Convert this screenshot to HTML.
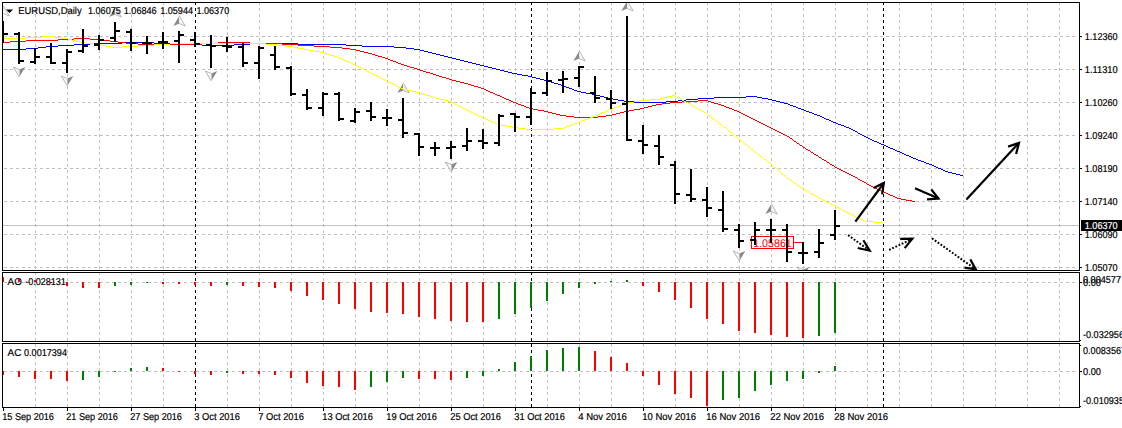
<!DOCTYPE html>
<html lang="en"><head><meta charset="utf-8"><title>EURUSD,Daily</title>
<style>html,body{margin:0;padding:0;background:#fff;overflow:hidden}svg{display:block}text{font-family:"Liberation Sans",Arial,sans-serif;font-size:10px;fill:#000;text-rendering:geometricPrecision;stroke:#000;stroke-width:0.2px}</style></head><body>
<svg width="1122" height="428" viewBox="0 0 1122 428">
<rect width="1122" height="428" fill="#fff"/>
<defs>
<clipPath id="c0"><rect x="3" y="3" width="1076" height="267"/></clipPath>
<clipPath id="c1"><rect x="3" y="273" width="1076" height="68"/></clipPath>
<clipPath id="c2"><rect x="3" y="344" width="1076" height="63"/></clipPath>
</defs>
<g shape-rendering="crispEdges" fill="none" stroke-width="1">
<g stroke="#C0C0C0" stroke-dasharray="3 3">
<path d="M35.5 2V270" stroke-dashoffset="0"/>
<path d="M35.5 272V341" stroke-dashoffset="0"/>
<path d="M35.5 343V407" stroke-dashoffset="5"/>
<path d="M67.5 2V270" stroke-dashoffset="0"/>
<path d="M67.5 272V341" stroke-dashoffset="0"/>
<path d="M67.5 343V407" stroke-dashoffset="5"/>
<path d="M99.5 2V270" stroke-dashoffset="0"/>
<path d="M99.5 272V341" stroke-dashoffset="0"/>
<path d="M99.5 343V407" stroke-dashoffset="5"/>
<path d="M131.5 2V270" stroke-dashoffset="0"/>
<path d="M131.5 272V341" stroke-dashoffset="0"/>
<path d="M131.5 343V407" stroke-dashoffset="5"/>
<path d="M163.5 2V270" stroke-dashoffset="0"/>
<path d="M163.5 272V341" stroke-dashoffset="0"/>
<path d="M163.5 343V407" stroke-dashoffset="5"/>
<path d="M195.5 2V270" stroke-dashoffset="0"/>
<path d="M195.5 272V341" stroke-dashoffset="0"/>
<path d="M195.5 343V407" stroke-dashoffset="5"/>
<path d="M227.5 2V270" stroke-dashoffset="0"/>
<path d="M227.5 272V341" stroke-dashoffset="0"/>
<path d="M227.5 343V407" stroke-dashoffset="5"/>
<path d="M259.5 2V270" stroke-dashoffset="0"/>
<path d="M259.5 272V341" stroke-dashoffset="0"/>
<path d="M259.5 343V407" stroke-dashoffset="5"/>
<path d="M291.5 2V270" stroke-dashoffset="0"/>
<path d="M291.5 272V341" stroke-dashoffset="0"/>
<path d="M291.5 343V407" stroke-dashoffset="5"/>
<path d="M323.5 2V270" stroke-dashoffset="0"/>
<path d="M323.5 272V341" stroke-dashoffset="0"/>
<path d="M323.5 343V407" stroke-dashoffset="5"/>
<path d="M355.5 2V270" stroke-dashoffset="0"/>
<path d="M355.5 272V341" stroke-dashoffset="0"/>
<path d="M355.5 343V407" stroke-dashoffset="5"/>
<path d="M387.5 2V270" stroke-dashoffset="0"/>
<path d="M387.5 272V341" stroke-dashoffset="0"/>
<path d="M387.5 343V407" stroke-dashoffset="5"/>
<path d="M419.5 2V270" stroke-dashoffset="0"/>
<path d="M419.5 272V341" stroke-dashoffset="0"/>
<path d="M419.5 343V407" stroke-dashoffset="5"/>
<path d="M451.5 2V270" stroke-dashoffset="0"/>
<path d="M451.5 272V341" stroke-dashoffset="0"/>
<path d="M451.5 343V407" stroke-dashoffset="5"/>
<path d="M483.5 2V270" stroke-dashoffset="0"/>
<path d="M483.5 272V341" stroke-dashoffset="0"/>
<path d="M483.5 343V407" stroke-dashoffset="5"/>
<path d="M515.5 2V270" stroke-dashoffset="0"/>
<path d="M515.5 272V341" stroke-dashoffset="0"/>
<path d="M515.5 343V407" stroke-dashoffset="5"/>
<path d="M547.5 2V270" stroke-dashoffset="0"/>
<path d="M547.5 272V341" stroke-dashoffset="0"/>
<path d="M547.5 343V407" stroke-dashoffset="5"/>
<path d="M579.5 2V270" stroke-dashoffset="0"/>
<path d="M579.5 272V341" stroke-dashoffset="0"/>
<path d="M579.5 343V407" stroke-dashoffset="5"/>
<path d="M611.5 2V270" stroke-dashoffset="0"/>
<path d="M611.5 272V341" stroke-dashoffset="0"/>
<path d="M611.5 343V407" stroke-dashoffset="5"/>
<path d="M643.5 2V270" stroke-dashoffset="0"/>
<path d="M643.5 272V341" stroke-dashoffset="0"/>
<path d="M643.5 343V407" stroke-dashoffset="5"/>
<path d="M675.5 2V270" stroke-dashoffset="0"/>
<path d="M675.5 272V341" stroke-dashoffset="0"/>
<path d="M675.5 343V407" stroke-dashoffset="5"/>
<path d="M707.5 2V270" stroke-dashoffset="0"/>
<path d="M707.5 272V341" stroke-dashoffset="0"/>
<path d="M707.5 343V407" stroke-dashoffset="5"/>
<path d="M739.5 2V270" stroke-dashoffset="0"/>
<path d="M739.5 272V341" stroke-dashoffset="0"/>
<path d="M739.5 343V407" stroke-dashoffset="5"/>
<path d="M771.5 2V270" stroke-dashoffset="0"/>
<path d="M771.5 272V341" stroke-dashoffset="0"/>
<path d="M771.5 343V407" stroke-dashoffset="5"/>
<path d="M803.5 2V270" stroke-dashoffset="0"/>
<path d="M803.5 272V341" stroke-dashoffset="0"/>
<path d="M803.5 343V407" stroke-dashoffset="5"/>
<path d="M835.5 2V270" stroke-dashoffset="0"/>
<path d="M835.5 272V341" stroke-dashoffset="0"/>
<path d="M835.5 343V407" stroke-dashoffset="5"/>
<path d="M867.5 2V270" stroke-dashoffset="0"/>
<path d="M867.5 272V341" stroke-dashoffset="0"/>
<path d="M867.5 343V407" stroke-dashoffset="5"/>
<path d="M899.5 2V270" stroke-dashoffset="0"/>
<path d="M899.5 272V341" stroke-dashoffset="0"/>
<path d="M899.5 343V407" stroke-dashoffset="5"/>
<path d="M931.5 2V270" stroke-dashoffset="0"/>
<path d="M931.5 272V341" stroke-dashoffset="0"/>
<path d="M931.5 343V407" stroke-dashoffset="5"/>
<path d="M963.5 2V270" stroke-dashoffset="0"/>
<path d="M963.5 272V341" stroke-dashoffset="0"/>
<path d="M963.5 343V407" stroke-dashoffset="5"/>
<path d="M995.5 2V270" stroke-dashoffset="0"/>
<path d="M995.5 272V341" stroke-dashoffset="0"/>
<path d="M995.5 343V407" stroke-dashoffset="5"/>
<path d="M1027.5 2V270" stroke-dashoffset="0"/>
<path d="M1027.5 272V341" stroke-dashoffset="0"/>
<path d="M1027.5 343V407" stroke-dashoffset="5"/>
<path d="M1059.5 2V270" stroke-dashoffset="0"/>
<path d="M1059.5 272V341" stroke-dashoffset="0"/>
<path d="M1059.5 343V407" stroke-dashoffset="5"/>
<path d="M4 36.5H1078"/>
<path d="M4 69.5H1078"/>
<path d="M4 102.5H1078"/>
<path d="M4 135.5H1078"/>
<path d="M4 168.5H1078"/>
<path d="M4 201.5H1078"/>
<path d="M4 234.5H1078"/>
<path d="M4 267.5H1078"/>
<path d="M4 282.5H1078"/>
<path d="M4 371.5H1078"/>
</g>
<path d="M3 225.5H1079" stroke="#C0C0C0"/>
</g>
<g shape-rendering="crispEdges" fill="none" stroke-width="1" stroke="#000" stroke-dasharray="3 3">
<path d="M195.5 2V270" stroke-dashoffset="0"/>
<path d="M195.5 272V341" stroke-dashoffset="0"/>
<path d="M195.5 343V407" stroke-dashoffset="5"/>
<path d="M531.5 2V270" stroke-dashoffset="0"/>
<path d="M531.5 272V341" stroke-dashoffset="0"/>
<path d="M531.5 343V407" stroke-dashoffset="5"/>
<path d="M883.5 2V270" stroke-dashoffset="0"/>
<path d="M883.5 272V341" stroke-dashoffset="0"/>
<path d="M883.5 343V407" stroke-dashoffset="5"/>
</g>
<g shape-rendering="crispEdges"><rect x="751.5" y="236.5" width="42" height="12" fill="none" stroke="#FF0000"/><path d="M794 242.5H803" stroke="#FF0000"/></g>
<text x="753.2" y="246.6" textLength="38.6" lengthAdjust="spacingAndGlyphs" style="fill:#FF0000;stroke:none;font-size:11px">1.05861</text>
<g clip-path="url(#c0)">
<path d="M3.3 6L-2.7 16L3.3 13.5Z" fill="#8a8a8a"/><path d="M3.3 6L9.3 16L3.3 13.5" fill="#f6f6f8" stroke="#a4a4ac" stroke-width="0.8"/>
<path d="M115.3 7L109.3 17L115.3 14.5Z" fill="#8a8a8a"/><path d="M115.3 7L121.3 17L115.3 14.5" fill="#f6f6f8" stroke="#a4a4ac" stroke-width="0.8"/>
<path d="M179.3 16L173.3 26L179.3 23.5Z" fill="#8a8a8a"/><path d="M179.3 16L185.3 26L179.3 23.5" fill="#f6f6f8" stroke="#a4a4ac" stroke-width="0.8"/>
<path d="M403.3 83L397.3 93L403.3 90.5Z" fill="#8a8a8a"/><path d="M403.3 83L409.3 93L403.3 90.5" fill="#f6f6f8" stroke="#a4a4ac" stroke-width="0.8"/>
<path d="M579.3 51L573.3 61L579.3 58.5Z" fill="#8a8a8a"/><path d="M579.3 51L585.3 61L579.3 58.5" fill="#f6f6f8" stroke="#a4a4ac" stroke-width="0.8"/>
<path d="M627.3 1L621.3 11L627.3 8.5Z" fill="#8a8a8a"/><path d="M627.3 1L633.3 11L627.3 8.5" fill="#f6f6f8" stroke="#a4a4ac" stroke-width="0.8"/>
<path d="M771.3 204L765.3 214L771.3 211.5Z" fill="#8a8a8a"/><path d="M771.3 204L777.3 214L771.3 211.5" fill="#f6f6f8" stroke="#a4a4ac" stroke-width="0.8"/>
<path d="M19.3 77L25.3 67L19.3 69.5Z" fill="#8a8a8a"/><path d="M19.3 77L13.3 67L19.3 69.5" fill="#f6f6f8" stroke="#a4a4ac" stroke-width="0.8"/>
<path d="M67.3 86L73.3 76L67.3 78.5Z" fill="#8a8a8a"/><path d="M67.3 86L61.3 76L67.3 78.5" fill="#f6f6f8" stroke="#a4a4ac" stroke-width="0.8"/>
<path d="M211.3 81L217.3 71L211.3 73.5Z" fill="#8a8a8a"/><path d="M211.3 81L205.3 71L211.3 73.5" fill="#f6f6f8" stroke="#a4a4ac" stroke-width="0.8"/>
<path d="M451.3 172L457.3 162L451.3 164.5Z" fill="#8a8a8a"/><path d="M451.3 172L445.3 162L451.3 164.5" fill="#f6f6f8" stroke="#a4a4ac" stroke-width="0.8"/>
<path d="M739.3 261L745.3 251L739.3 253.5Z" fill="#8a8a8a"/><path d="M739.3 261L733.3 251L739.3 253.5" fill="#f6f6f8" stroke="#a4a4ac" stroke-width="0.8"/>
<path d="M803.3 277L809.3 267L803.3 269.5Z" fill="#8a8a8a"/><path d="M803.3 277L797.3 267L803.3 269.5" fill="#f6f6f8" stroke="#a4a4ac" stroke-width="0.8"/>
</g>
<g clip-path="url(#c0)" shape-rendering="crispEdges">
<path fill="#0000FF" d="M122 42h32v1h-32zM90 43h32v1h-32zM154 43h32v1h-32zM250 43h48v1h-48zM74 44h16v1h-16zM186 44h16v1h-16zM234 44h16v1h-16zM298 44h48v1h-48zM58 45h16v1h-16zM202 45h32v1h-32zM346 45h16v1h-16zM46 46h12v1h-12zM362 46h32v1h-32zM38 47h8v1h-8zM394 47h12v1h-12zM26 48h12v1h-12zM406 48h8v1h-8zM2 49h24v1h-24zM414 49h6v1h-6zM420 50h4v1h-4zM424 51h4v1h-4zM428 52h4v1h-4zM432 53h4v1h-4zM436 54h4v1h-4zM440 55h4v1h-4zM444 56h4v1h-4zM448 57h4v1h-4zM452 58h4v1h-4zM456 59h4v1h-4zM460 60h4v1h-4zM464 61h4v1h-4zM468 62h4v1h-4zM472 63h4v1h-4zM476 64h4v1h-4zM480 65h4v1h-4zM484 66h4v1h-4zM488 67h4v1h-4zM492 68h4v1h-4zM496 69h4v1h-4zM500 70h4v1h-4zM504 71h4v1h-4zM508 72h4v1h-4zM512 73h5v1h-5zM517 74h5v1h-5zM522 75h6v1h-6zM528 76h4v1h-4zM532 77h4v1h-4zM536 78h4v1h-4zM540 79h4v1h-4zM544 80h4v1h-4zM548 81h3v1h-3zM551 82h3v1h-3zM554 83h4v1h-4zM558 84h3v1h-3zM561 85h3v1h-3zM564 86h2v1h-2zM566 87h3v1h-3zM569 88h3v1h-3zM572 89h2v1h-2zM574 90h3v1h-3zM577 91h4v1h-4zM581 92h5v1h-5zM586 93h6v1h-6zM592 94h4v1h-4zM596 95h4v1h-4zM600 96h4v1h-4zM746 96h11v1h-11zM604 97h4v1h-4zM714 97h32v1h-32zM757 97h5v1h-5zM608 98h5v1h-5zM698 98h16v1h-16zM762 98h6v1h-6zM613 99h5v1h-5zM686 99h12v1h-12zM768 99h4v1h-4zM618 100h6v1h-6zM678 100h8v1h-8zM772 100h4v1h-4zM624 101h10v1h-10zM666 101h12v1h-12zM776 101h4v1h-4zM634 102h32v1h-32zM780 102h4v1h-4zM784 103h4v1h-4zM788 104h2v1h-2zM790 105h3v1h-3zM793 106h3v1h-3zM796 107h2v1h-2zM798 108h3v1h-3zM801 109h3v1h-3zM804 110h2v1h-2zM806 111h3v1h-3zM809 112h3v1h-3zM812 113h2v1h-2zM814 114h3v1h-3zM817 115h3v1h-3zM820 116h2v1h-2zM822 117h2v1h-2zM824 118h2v1h-2zM826 119h3v1h-3zM829 120h2v1h-2zM831 121h2v1h-2zM833 122h3v1h-3zM836 123h2v1h-2zM838 124h3v1h-3zM841 125h3v1h-3zM844 126h2v1h-2zM846 127h3v1h-3zM849 128h2v1h-2zM851 129h2v1h-2zM853 130h2v1h-2zM855 131h2v1h-2zM857 132h1v1h-1zM858 133h2v1h-2zM860 134h2v1h-2zM862 135h2v1h-2zM864 136h2v1h-2zM866 137h2v1h-2zM868 138h2v1h-2zM870 139h2v1h-2zM872 140h2v1h-2zM874 141h3v1h-3zM877 142h2v1h-2zM879 143h2v1h-2zM881 144h3v1h-3zM884 145h2v1h-2zM886 146h2v1h-2zM888 147h2v1h-2zM890 148h3v1h-3zM893 149h2v1h-2zM895 150h2v1h-2zM897 151h3v1h-3zM900 152h2v1h-2zM902 153h2v1h-2zM904 154h2v1h-2zM906 155h3v1h-3zM909 156h2v1h-2zM911 157h2v1h-2zM913 158h3v1h-3zM916 159h2v1h-2zM918 160h3v1h-3zM921 161h3v1h-3zM924 162h2v1h-2zM926 163h3v1h-3zM929 164h3v1h-3zM932 165h2v1h-2zM934 166h2v1h-2zM936 167h2v1h-2zM938 168h3v1h-3zM941 169h2v1h-2zM943 170h2v1h-2zM945 171h3v1h-3zM948 172h4v1h-4zM952 173h4v1h-4zM956 174h4v1h-4zM960 175h3v1h-3z"/>
<path fill="#FF0000" d="M74 38h16v1h-16zM58 39h16v1h-16zM90 39h12v1h-12zM26 40h32v1h-32zM102 40h8v1h-8zM10 41h16v1h-16zM110 41h8v1h-8zM2 42h8v1h-8zM118 42h8v1h-8zM218 42h32v1h-32zM126 43h12v1h-12zM202 43h16v1h-16zM250 43h32v1h-32zM138 44h64v1h-64zM282 44h16v1h-16zM298 45h16v1h-16zM314 46h16v1h-16zM330 47h12v1h-12zM342 48h8v1h-8zM350 49h6v1h-6zM356 50h4v1h-4zM360 51h4v1h-4zM364 52h4v1h-4zM368 53h4v1h-4zM372 54h3v1h-3zM375 55h3v1h-3zM378 56h4v1h-4zM382 57h3v1h-3zM385 58h3v1h-3zM388 59h2v1h-2zM390 60h3v1h-3zM393 61h3v1h-3zM396 62h2v1h-2zM398 63h3v1h-3zM401 64h3v1h-3zM404 65h3v1h-3zM407 66h3v1h-3zM410 67h4v1h-4zM414 68h3v1h-3zM417 69h3v1h-3zM420 70h3v1h-3zM423 71h3v1h-3zM426 72h4v1h-4zM430 73h3v1h-3zM433 74h3v1h-3zM436 75h3v1h-3zM439 76h3v1h-3zM442 77h4v1h-4zM446 78h3v1h-3zM449 79h3v1h-3zM452 80h4v1h-4zM456 81h4v1h-4zM460 82h4v1h-4zM464 83h4v1h-4zM468 84h3v1h-3zM471 85h3v1h-3zM474 86h4v1h-4zM478 87h3v1h-3zM481 88h3v1h-3zM484 89h2v1h-2zM486 90h2v1h-2zM488 91h2v1h-2zM490 92h3v1h-3zM493 93h2v1h-2zM495 94h2v1h-2zM497 95h3v1h-3zM500 96h2v1h-2zM502 97h2v1h-2zM504 98h2v1h-2zM506 99h3v1h-3zM509 100h2v1h-2zM698 100h10v1h-10zM511 101h2v1h-2zM682 101h16v1h-16zM708 101h3v1h-3zM513 102h3v1h-3zM670 102h12v1h-12zM711 102h3v1h-3zM516 103h2v1h-2zM662 103h8v1h-8zM714 103h4v1h-4zM518 104h3v1h-3zM656 104h6v1h-6zM718 104h3v1h-3zM521 105h3v1h-3zM652 105h4v1h-4zM721 105h3v1h-3zM524 106h2v1h-2zM648 106h4v1h-4zM724 106h2v1h-2zM526 107h3v1h-3zM644 107h4v1h-4zM726 107h3v1h-3zM529 108h4v1h-4zM640 108h4v1h-4zM729 108h3v1h-3zM533 109h5v1h-5zM634 109h6v1h-6zM732 109h2v1h-2zM538 110h6v1h-6zM629 110h5v1h-5zM734 110h3v1h-3zM544 111h4v1h-4zM624 111h5v1h-5zM737 111h2v1h-2zM548 112h4v1h-4zM620 112h4v1h-4zM739 112h2v1h-2zM552 113h4v1h-4zM616 113h4v1h-4zM741 113h2v1h-2zM556 114h4v1h-4zM612 114h4v1h-4zM743 114h2v1h-2zM560 115h6v1h-6zM606 115h6v1h-6zM745 115h2v1h-2zM566 116h8v1h-8zM598 116h8v1h-8zM747 116h2v1h-2zM574 117h24v1h-24zM749 117h2v1h-2zM751 118h2v1h-2zM753 119h2v1h-2zM755 120h2v1h-2zM757 121h2v1h-2zM759 122h2v1h-2zM761 123h2v1h-2zM763 124h2v1h-2zM765 125h2v1h-2zM767 126h2v1h-2zM769 127h2v1h-2zM771 128h2v1h-2zM773 129h2v1h-2zM775 130h2v1h-2zM777 131h2v1h-2zM779 132h2v1h-2zM781 133h2v1h-2zM783 134h2v1h-2zM785 135h2v1h-2zM787 136h2v1h-2zM789 137h1v1h-1zM790 138h2v1h-2zM792 139h1v1h-1zM793 140h1v1h-1zM794 141h2v1h-2zM796 142h1v1h-1zM797 143h2v1h-2zM799 144h1v1h-1zM800 145h2v1h-2zM802 146h1v1h-1zM803 147h2v1h-2zM805 148h1v1h-1zM806 149h2v1h-2zM808 150h2v1h-2zM810 151h1v1h-1zM811 152h2v1h-2zM813 153h1v1h-1zM814 154h2v1h-2zM816 155h2v1h-2zM818 156h1v1h-1zM819 157h2v1h-2zM821 158h1v1h-1zM822 159h2v1h-2zM824 160h2v1h-2zM826 161h1v1h-1zM827 162h2v1h-2zM829 163h1v1h-1zM830 164h2v1h-2zM832 165h2v1h-2zM834 166h1v1h-1zM835 167h2v1h-2zM837 168h2v1h-2zM839 169h2v1h-2zM841 170h2v1h-2zM843 171h2v1h-2zM845 172h2v1h-2zM847 173h2v1h-2zM849 174h2v1h-2zM851 175h2v1h-2zM853 176h2v1h-2zM855 177h2v1h-2zM857 178h1v1h-1zM858 179h2v1h-2zM860 180h2v1h-2zM862 181h2v1h-2zM864 182h2v1h-2zM866 183h1v1h-1zM867 184h2v1h-2zM869 185h2v1h-2zM871 186h2v1h-2zM873 187h2v1h-2zM875 188h2v1h-2zM877 189h2v1h-2zM879 190h2v1h-2zM881 191h3v1h-3zM884 192h2v1h-2zM886 193h2v1h-2zM888 194h2v1h-2zM890 195h3v1h-3zM893 196h2v1h-2zM895 197h2v1h-2zM897 198h4v1h-4zM901 199h5v1h-5zM906 200h6v1h-6zM912 201h3v1h-3z"/>
<path fill="#FFFF00" d="M42 36h12v1h-12zM26 37h16v1h-16zM54 37h8v1h-8zM2 38h24v1h-24zM62 38h6v1h-6zM68 39h4v1h-4zM72 40h4v1h-4zM76 41h4v1h-4zM80 42h6v1h-6zM86 43h8v1h-8zM170 43h96v1h-96zM94 44h7v1h-7zM154 44h16v1h-16zM266 44h12v1h-12zM101 45h5v1h-5zM138 45h16v1h-16zM278 45h8v1h-8zM106 46h6v1h-6zM122 46h16v1h-16zM286 46h7v1h-7zM112 47h10v1h-10zM293 47h5v1h-5zM298 48h6v1h-6zM304 49h5v1h-5zM309 50h5v1h-5zM314 51h6v1h-6zM320 52h4v1h-4zM324 53h3v1h-3zM327 54h3v1h-3zM330 55h4v1h-4zM334 56h3v1h-3zM337 57h3v1h-3zM340 58h2v1h-2zM342 59h2v1h-2zM344 60h2v1h-2zM346 61h3v1h-3zM349 62h2v1h-2zM351 63h2v1h-2zM353 64h2v1h-2zM355 65h2v1h-2zM357 66h2v1h-2zM359 67h2v1h-2zM361 68h2v1h-2zM363 69h2v1h-2zM365 70h2v1h-2zM367 71h2v1h-2zM369 72h2v1h-2zM371 73h2v1h-2zM373 74h2v1h-2zM375 75h2v1h-2zM377 76h2v1h-2zM379 77h2v1h-2zM381 78h2v1h-2zM383 79h2v1h-2zM385 80h2v1h-2zM387 81h2v1h-2zM389 82h2v1h-2zM391 83h2v1h-2zM393 84h2v1h-2zM395 85h2v1h-2zM397 86h2v1h-2zM399 87h2v1h-2zM401 88h3v1h-3zM404 89h4v1h-4zM408 90h4v1h-4zM412 91h4v1h-4zM416 92h4v1h-4zM420 93h3v1h-3zM423 94h3v1h-3zM426 95h4v1h-4zM672 95h3v1h-3zM430 96h3v1h-3zM668 96h4v1h-4zM675 96h2v1h-2zM433 97h3v1h-3zM664 97h4v1h-4zM677 97h2v1h-2zM436 98h4v1h-4zM660 98h4v1h-4zM679 98h2v1h-2zM440 99h4v1h-4zM650 99h10v1h-10zM681 99h1v1h-1zM444 100h4v1h-4zM640 100h10v1h-10zM682 100h2v1h-2zM448 101h3v1h-3zM634 101h6v1h-6zM684 101h2v1h-2zM451 102h2v1h-2zM629 102h5v1h-5zM686 102h2v1h-2zM453 103h2v1h-2zM625 103h4v1h-4zM688 103h2v1h-2zM455 104h2v1h-2zM622 104h3v1h-3zM690 104h1v1h-1zM457 105h2v1h-2zM620 105h2v1h-2zM691 105h2v1h-2zM459 106h2v1h-2zM617 106h3v1h-3zM693 106h2v1h-2zM461 107h2v1h-2zM614 107h3v1h-3zM695 107h2v1h-2zM463 108h2v1h-2zM612 108h2v1h-2zM697 108h1v1h-1zM465 109h2v1h-2zM609 109h3v1h-3zM698 109h2v1h-2zM467 110h2v1h-2zM607 110h2v1h-2zM700 110h2v1h-2zM469 111h2v1h-2zM605 111h2v1h-2zM702 111h2v1h-2zM471 112h2v1h-2zM602 112h3v1h-3zM704 112h2v1h-2zM473 113h2v1h-2zM600 113h2v1h-2zM706 113h1v1h-1zM475 114h2v1h-2zM598 114h2v1h-2zM707 114h1v1h-1zM477 115h2v1h-2zM596 115h2v1h-2zM708 115h2v1h-2zM479 116h2v1h-2zM593 116h3v1h-3zM710 116h1v1h-1zM481 117h3v1h-3zM590 117h3v1h-3zM711 117h1v1h-1zM484 118h2v1h-2zM588 118h2v1h-2zM712 118h2v1h-2zM486 119h2v1h-2zM585 119h3v1h-3zM714 119h1v1h-1zM488 120h2v1h-2zM582 120h3v1h-3zM715 120h1v1h-1zM490 121h3v1h-3zM580 121h2v1h-2zM716 121h2v1h-2zM493 122h2v1h-2zM577 122h3v1h-3zM718 122h1v1h-1zM495 123h2v1h-2zM574 123h3v1h-3zM719 123h1v1h-1zM497 124h4v1h-4zM572 124h2v1h-2zM720 124h2v1h-2zM501 125h5v1h-5zM569 125h3v1h-3zM722 125h1v1h-1zM506 126h6v1h-6zM566 126h3v1h-3zM723 126h1v1h-1zM512 127h6v1h-6zM564 127h2v1h-2zM724 127h2v1h-2zM518 128h8v1h-8zM554 128h10v1h-10zM726 128h1v1h-1zM526 129h28v1h-28zM727 129h1v1h-1zM728 130h1v1h-1zM729 131h1v1h-1zM730 132h2v1h-2zM732 133h1v1h-1zM733 134h1v1h-1zM734 135h1v1h-1zM735 136h2v1h-2zM737 137h1v1h-1zM738 138h1v1h-1zM739 139h1v1h-1zM740 140h2v1h-2zM742 141h1v1h-1zM743 142h1v1h-1zM744 143h1v1h-1zM745 144h1v1h-1zM746 145h2v1h-2zM748 146h1v1h-1zM749 147h1v1h-1zM750 148h1v1h-1zM751 149h2v1h-2zM753 150h1v1h-1zM754 151h1v1h-1zM755 152h1v1h-1zM756 153h2v1h-2zM758 154h1v1h-1zM759 155h1v1h-1zM760 156h2v1h-2zM762 157h1v1h-1zM763 158h1v1h-1zM764 159h2v1h-2zM766 160h1v1h-1zM767 161h1v1h-1zM768 162h2v1h-2zM770 163h1v1h-1zM771 164h1v1h-1zM772 165h1v1h-1zM773 166h1v1h-1zM774 167h2v1h-2zM776 168h1v1h-1zM777 169h1v1h-1zM778 170h1v1h-1zM779 171h1v1h-1zM780 172h1v1h-1zM781 173h1v1h-1zM782 174h2v1h-2zM784 175h1v1h-1zM785 176h1v1h-1zM786 177h1v1h-1zM787 178h2v1h-2zM789 179h1v1h-1zM790 180h2v1h-2zM792 181h1v1h-1zM793 182h1v1h-1zM794 183h2v1h-2zM796 184h1v1h-1zM797 185h2v1h-2zM799 186h1v1h-1zM800 187h2v1h-2zM802 188h1v1h-1zM803 189h2v1h-2zM805 190h2v1h-2zM807 191h2v1h-2zM809 192h1v1h-1zM810 193h2v1h-2zM812 194h2v1h-2zM814 195h2v1h-2zM816 196h2v1h-2zM818 197h1v1h-1zM819 198h2v1h-2zM821 199h2v1h-2zM823 200h2v1h-2zM825 201h2v1h-2zM827 202h2v1h-2zM829 203h2v1h-2zM831 204h2v1h-2zM833 205h2v1h-2zM835 206h2v1h-2zM837 207h2v1h-2zM839 208h2v1h-2zM841 209h1v1h-1zM842 210h2v1h-2zM844 211h2v1h-2zM846 212h2v1h-2zM848 213h2v1h-2zM850 214h2v1h-2zM852 215h2v1h-2zM854 216h2v1h-2zM856 217h2v1h-2zM858 218h3v1h-3zM861 219h2v1h-2zM863 220h2v1h-2zM865 221h9v1h-9zM874 222h9v1h-9z"/>
</g>
<g clip-path="url(#c0)" shape-rendering="crispEdges" fill="#000">
<path d="M2 21h2v22h-2zM4 33h4v2h-4zM18 32h2v32h-2zM14 33h4v2h-4zM20 60h4v2h-4zM34 48h2v16h-2zM30 61h4v2h-4zM36 56h4v2h-4zM50 43h2v21h-2zM46 56h4v2h-4zM52 62h4v2h-4zM66 49h2v24h-2zM62 62h4v2h-4zM68 51h4v2h-4zM82 29h2v24h-2zM78 50h4v2h-4zM84 45h4v2h-4zM98 35h2v15h-2zM94 44h4v2h-4zM100 39h4v2h-4zM114 22h2v20h-2zM110 37h4v2h-4zM116 30h4v2h-4zM130 29h2v22h-2zM126 31h4v2h-4zM132 42h4v2h-4zM146 36h2v18h-2zM142 42h4v2h-4zM148 42h4v2h-4zM162 32h2v17h-2zM158 41h4v2h-4zM164 41h4v2h-4zM178 31h2v32h-2zM174 40h4v2h-4zM180 34h4v2h-4zM194 32h2v15h-2zM190 39h4v2h-4zM196 43h4v2h-4zM210 35h2v33h-2zM206 44h4v2h-4zM212 45h4v2h-4zM226 37h2v15h-2zM222 45h4v2h-4zM228 46h4v2h-4zM242 43h2v24h-2zM238 46h4v2h-4zM244 62h4v2h-4zM258 46h2v33h-2zM254 62h4v2h-4zM260 47h4v2h-4zM274 46h2v24h-2zM270 54h4v2h-4zM276 66h4v2h-4zM290 66h2v30h-2zM286 67h4v2h-4zM292 93h4v2h-4zM306 89h2v21h-2zM302 94h4v2h-4zM308 107h4v2h-4zM322 92h2v24h-2zM318 107h4v2h-4zM324 93h4v2h-4zM338 92h2v29h-2zM334 93h4v2h-4zM340 118h4v2h-4zM354 108h2v15h-2zM350 120h4v2h-4zM356 111h4v2h-4zM370 102h2v19h-2zM366 110h4v2h-4zM372 116h4v2h-4zM386 109h2v17h-2zM382 117h4v2h-4zM388 117h4v2h-4zM402 98h2v40h-2zM398 119h4v2h-4zM404 132h4v2h-4zM418 133h2v23h-2zM414 133h4v2h-4zM420 146h4v2h-4zM434 142h2v14h-2zM430 147h4v2h-4zM436 147h4v2h-4zM450 141h2v18h-2zM446 147h4v2h-4zM452 146h4v2h-4zM466 128h2v23h-2zM462 145h4v2h-4zM468 140h4v2h-4zM482 129h2v20h-2zM478 140h4v2h-4zM484 142h4v2h-4zM498 114h2v32h-2zM494 142h4v2h-4zM500 115h4v2h-4zM514 113h2v19h-2zM510 113h4v2h-4zM516 116h4v2h-4zM530 88h2v37h-2zM526 116h4v2h-4zM532 92h4v2h-4zM546 72h2v24h-2zM542 92h4v2h-4zM548 80h4v2h-4zM562 71h2v22h-2zM558 79h4v2h-4zM564 78h4v2h-4zM578 66h2v21h-2zM574 77h4v2h-4zM580 66h4v2h-4zM594 76h2v27h-2zM590 92h4v2h-4zM596 97h4v2h-4zM610 90h2v19h-2zM606 98h4v2h-4zM612 102h4v2h-4zM626 16h2v125h-2zM622 103h4v2h-4zM628 139h4v2h-4zM642 125h2v29h-2zM638 140h4v2h-4zM644 144h4v2h-4zM658 135h2v30h-2zM654 145h4v2h-4zM660 156h4v2h-4zM674 161h2v43h-2zM670 164h4v2h-4zM676 193h4v2h-4zM690 169h2v33h-2zM686 194h4v2h-4zM692 198h4v2h-4zM706 187h2v30h-2zM702 199h4v2h-4zM708 207h4v2h-4zM722 191h2v41h-2zM718 209h4v2h-4zM724 228h4v2h-4zM738 224h2v24h-2zM734 229h4v2h-4zM740 240h4v2h-4zM754 222h2v23h-2zM750 239h4v2h-4zM756 229h4v2h-4zM770 219h2v24h-2zM766 229h4v2h-4zM772 229h4v2h-4zM786 224h2v38h-2zM782 229h4v2h-4zM788 251h4v2h-4zM802 242h2v22h-2zM798 252h4v2h-4zM804 252h4v2h-4zM818 229h2v29h-2zM814 251h4v2h-4zM820 242h4v2h-4zM834 210h2v30h-2zM830 234h4v2h-4zM836 225h4v2h-4z"/>
</g>
<g clip-path="url(#c1)" shape-rendering="crispEdges"><path fill="#FF0000" d="M2 277h2v5h-2zM18 279h2v3h-2zM34 280h2v2h-2zM50 282h2v1h-2zM66 282h2v4h-2zM82 282h2v6h-2zM98 282h2v6h-2zM162 282h2v2h-2zM178 282h2v2h-2zM194 282h2v3h-2zM210 282h2v4h-2zM242 282h2v4h-2zM258 282h2v5h-2zM274 282h2v6h-2zM290 282h2v9h-2zM306 282h2v14h-2zM322 282h2v18h-2zM338 282h2v22h-2zM354 282h2v27h-2zM370 282h2v30h-2zM386 282h2v31h-2zM402 282h2v32h-2zM418 282h2v35h-2zM434 282h2v37h-2zM450 282h2v39h-2zM466 282h2v40h-2zM482 282h2v40h-2zM642 282h2v4h-2zM658 282h2v10h-2zM674 282h2v18h-2zM690 282h2v26h-2zM706 282h2v37h-2zM722 282h2v42h-2zM738 282h2v49h-2zM754 282h2v51h-2zM770 282h2v53h-2zM786 282h2v55h-2zM802 282h2v56h-2z"/><path fill="#008000" d="M114 282h2v4h-2zM130 282h2v3h-2zM146 282h2v1h-2zM226 282h2v3h-2zM498 282h2v37h-2zM514 282h2v32h-2zM530 282h2v26h-2zM546 282h2v19h-2zM562 282h2v12h-2zM578 282h2v6h-2zM594 282h2v2h-2zM610 281h2v1h-2zM626 280h2v2h-2zM818 282h2v54h-2zM834 282h2v51h-2z"/></g>
<g clip-path="url(#c2)" shape-rendering="crispEdges"><path fill="#FF0000" d="M2 371h2v4h-2zM18 371h2v6h-2zM34 371h2v8h-2zM50 371h2v8h-2zM66 371h2v10h-2zM162 368h2v3h-2zM178 371h2v1h-2zM194 371h2v3h-2zM210 371h2v4h-2zM242 371h2v3h-2zM258 371h2v3h-2zM274 371h2v4h-2zM290 371h2v7h-2zM306 371h2v12h-2zM322 371h2v15h-2zM338 371h2v16h-2zM354 371h2v19h-2zM418 371h2v8h-2zM434 371h2v8h-2zM450 371h2v9h-2zM594 351h2v20h-2zM610 357h2v14h-2zM626 363h2v8h-2zM642 371h2v5h-2zM658 371h2v14h-2zM674 371h2v23h-2zM690 371h2v27h-2zM706 371h2v35h-2z"/><path fill="#008000" d="M82 371h2v9h-2zM98 371h2v6h-2zM114 371h2v1h-2zM130 368h2v3h-2zM146 367h2v4h-2zM226 371h2v2h-2zM370 371h2v16h-2zM386 371h2v11h-2zM402 371h2v7h-2zM466 371h2v7h-2zM482 371h2v5h-2zM498 369h2v2h-2zM514 362h2v9h-2zM530 356h2v15h-2zM546 350h2v21h-2zM562 348h2v23h-2zM578 347h2v24h-2zM722 371h2v29h-2zM738 371h2v27h-2zM754 371h2v20h-2zM770 371h2v14h-2zM786 371h2v10h-2zM802 371h2v8h-2zM818 371h2v2h-2zM834 366h2v5h-2z"/></g>
<g clip-path="url(#c0)" fill="none" stroke="#000" stroke-width="2.2" stroke-linecap="butt" stroke-linejoin="miter">
<path d="M855.4 221.6L883.8 183.0" /><path d="M882.1 194.4L883.8 183.0L873.5 188.0"/>
<path d="M915 188.3L938.5 198.5" /><path d="M927.0 199.4L938.5 198.5L931.3 189.5"/>
<path d="M966.4 199.5L1019.0 142.9" /><path d="M1016.1 154.0L1019.0 142.9L1008.1 146.6"/>
<path d="M848.1 235.1L869.7 250.7" stroke-dasharray="1.8 1.7" stroke-width="2"/><path d="M857.8 248.0L869.7 250.7L863.4 240.2"/>
<path d="M889.1 249.9L912.4 238.7" stroke-dasharray="1.8 1.7" stroke-width="2"/><path d="M904.7 248.1L912.4 238.7L900.2 238.8"/>
<path d="M932 238.3L975.8 269.4" stroke-dasharray="1.8 1.7" stroke-width="2"/><path d="M964.5 267.6L975.8 269.4L970.3 259.4"/>
</g>
<g shape-rendering="crispEdges" fill="none" stroke="#000" stroke-width="1">
<rect x="2.5" y="2.5" width="1077" height="268"/>
<rect x="2.5" y="272.5" width="1077" height="69"/>
<rect x="2.5" y="343.5" width="1077" height="64"/>
<path d="M1080 36.5h2M1080 69.5h2M1080 102.5h2M1080 135.5h2M1080 168.5h2M1080 201.5h2M1080 234.5h2M1080 267.5h2M1080 282.5h2M1080 371.5h2M3.5 408v3M67.5 408v3M131.5 408v3M195.5 408v3M259.5 408v3M323.5 408v3M387.5 408v3M451.5 408v3M515.5 408v3M579.5 408v3M643.5 408v3M707.5 408v3M771.5 408v3M835.5 408v3M1080 340.5h1M1080 345.5h1M1080 406.5h1"/>
</g>
<rect x="1081" y="220" width="41" height="11" fill="#000" shape-rendering="crispEdges"/>
<path d="M6 9.5h7l-3.5 3.6z" fill="#000"/>
<text x="18.2" y="13.7" textLength="63.5" lengthAdjust="spacingAndGlyphs">EURUSD,Daily</text>
<text x="88" y="13.7" textLength="32.8" lengthAdjust="spacingAndGlyphs">1.06075</text>
<text x="123.8" y="13.7" textLength="32.8" lengthAdjust="spacingAndGlyphs">1.06846</text>
<text x="160.2" y="13.7" textLength="32.8" lengthAdjust="spacingAndGlyphs">1.05944</text>
<text x="196.4" y="13.7" textLength="32.8" lengthAdjust="spacingAndGlyphs">1.06370</text>
<text x="1084.8" y="39.6" textLength="32.8" lengthAdjust="spacingAndGlyphs">1.12360</text>
<text x="1084.8" y="72.6" textLength="32.8" lengthAdjust="spacingAndGlyphs">1.11310</text>
<text x="1084.8" y="105.6" textLength="32.8" lengthAdjust="spacingAndGlyphs">1.10260</text>
<text x="1084.8" y="138.6" textLength="32.8" lengthAdjust="spacingAndGlyphs">1.09240</text>
<text x="1084.8" y="171.6" textLength="32.8" lengthAdjust="spacingAndGlyphs">1.08190</text>
<text x="1084.8" y="204.6" textLength="32.8" lengthAdjust="spacingAndGlyphs">1.07140</text>
<text x="1084.8" y="237.6" textLength="32.8" lengthAdjust="spacingAndGlyphs">1.06090</text>
<text x="1084.8" y="270.6" textLength="32.8" lengthAdjust="spacingAndGlyphs">1.05070</text>
<text x="1084.8" y="228.8" textLength="32.8" lengthAdjust="spacingAndGlyphs" style="fill:#fff;stroke:#fff">1.06370</text>
<text x="1083" y="282.8" textLength="38" lengthAdjust="spacingAndGlyphs">0.004577</text>
<text x="1083" y="285.8" textLength="18" lengthAdjust="spacingAndGlyphs">0.00</text>
<text x="1083" y="338.3" textLength="41" lengthAdjust="spacingAndGlyphs">-0.032956</text>
<text x="1083" y="353.8" textLength="43.1" lengthAdjust="spacingAndGlyphs">0.0083567</text>
<text x="1083" y="374.6" textLength="18" lengthAdjust="spacingAndGlyphs">0.00</text>
<text x="1083" y="403.6" textLength="41" lengthAdjust="spacingAndGlyphs">-0.010935</text>
<text x="7.6" y="285.1" textLength="14.2" lengthAdjust="spacingAndGlyphs">AO</text>
<text x="25.2" y="285.1" textLength="40.6" lengthAdjust="spacingAndGlyphs">-0.028131</text>
<text x="7.6" y="356" textLength="13.8" lengthAdjust="spacingAndGlyphs">AC</text>
<text x="24" y="356" textLength="43" lengthAdjust="spacingAndGlyphs">0.0017394</text>
<text x="2.3" y="419.8" textLength="51.6" lengthAdjust="spacingAndGlyphs">15 Sep 2016</text>
<text x="66.3" y="419.8" textLength="51.6" lengthAdjust="spacingAndGlyphs">21 Sep 2016</text>
<text x="130.3" y="419.8" textLength="51.6" lengthAdjust="spacingAndGlyphs">27 Sep 2016</text>
<text x="194.3" y="419.8" textLength="45.6" lengthAdjust="spacingAndGlyphs">3 Oct 2016</text>
<text x="258.3" y="419.8" textLength="45.6" lengthAdjust="spacingAndGlyphs">7 Oct 2016</text>
<text x="322.3" y="419.8" textLength="50.6" lengthAdjust="spacingAndGlyphs">13 Oct 2016</text>
<text x="386.3" y="419.8" textLength="50.6" lengthAdjust="spacingAndGlyphs">19 Oct 2016</text>
<text x="450.3" y="419.8" textLength="50.6" lengthAdjust="spacingAndGlyphs">25 Oct 2016</text>
<text x="514.3" y="419.8" textLength="50.6" lengthAdjust="spacingAndGlyphs">31 Oct 2016</text>
<text x="578.3" y="419.8" textLength="48.6" lengthAdjust="spacingAndGlyphs">4 Nov 2016</text>
<text x="642.3" y="419.8" textLength="53.8" lengthAdjust="spacingAndGlyphs">10 Nov 2016</text>
<text x="706.3" y="419.8" textLength="53.8" lengthAdjust="spacingAndGlyphs">16 Nov 2016</text>
<text x="770.3" y="419.8" textLength="53.8" lengthAdjust="spacingAndGlyphs">22 Nov 2016</text>
<text x="834.3" y="419.8" textLength="53.8" lengthAdjust="spacingAndGlyphs">28 Nov 2016</text>
</svg></body></html>
